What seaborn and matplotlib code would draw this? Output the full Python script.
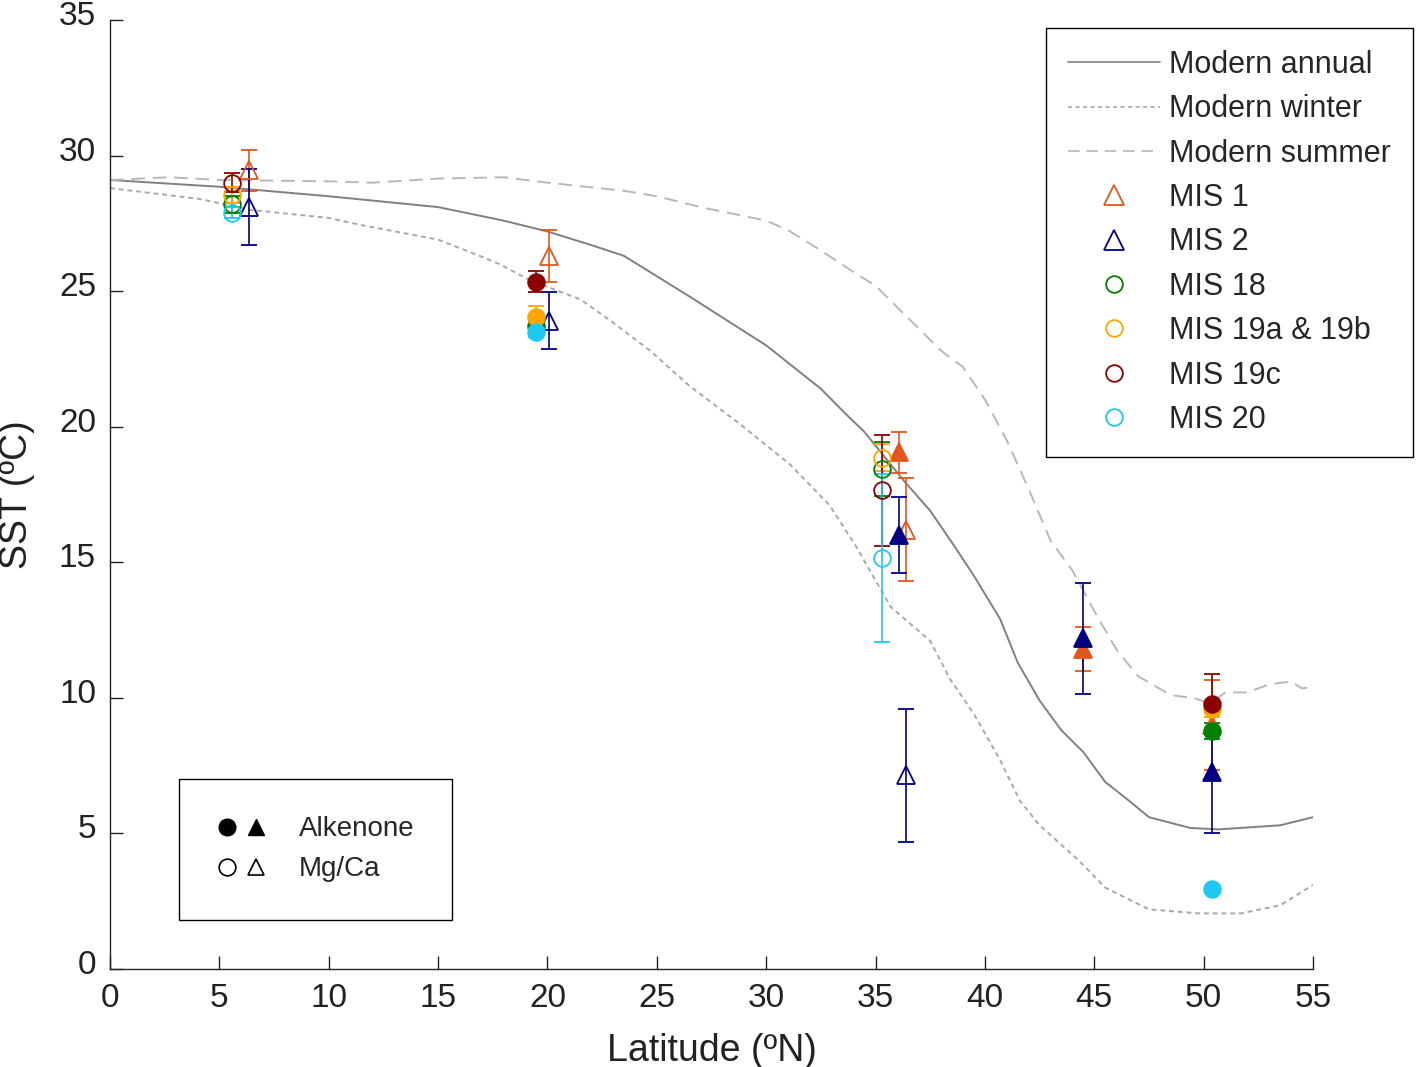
import matplotlib
matplotlib.use("Agg")
import matplotlib.pyplot as plt
import matplotlib.transforms as mtransforms
from matplotlib.lines import Line2D
from matplotlib.legend_handler import HandlerTuple
import numpy as np
import pandas as pd
import seaborn as sns

sns.set_style("ticks")
plt.rcParams["font.family"] = ["Liberation Sans", "DejaVu Sans"]

# ------------------------------------------------------------
# Modern SST profiles
# ------------------------------------------------------------
annual_lat = [0, 5, 10, 15, 18, 20, 22, 23.5, 26.5, 30, 32.5, 33.6, 34.5, 35.2, 36.3,
              37.5, 38.6, 39.5, 40.7, 41.5, 42.5, 43.5, 44.5, 45.5, 46.6, 47.5, 49.4,
              50.7, 53.5, 55]
annual_sst = [29.1, 28.85, 28.5, 28.1, 27.6, 27.2, 26.7, 26.3, 24.8, 23.0, 21.4, 20.5,
              19.8, 19.1, 18.0, 16.9, 15.6, 14.5, 12.9, 11.3, 9.9, 8.8, 8.0, 6.9, 6.2,
              5.6, 5.2, 5.15, 5.3, 5.6]

winter_lat = [0, 4.1, 6.4, 10, 11.4, 15, 16.9, 17.8, 19.2, 21.5, 22.9, 24.7, 26.5, 28.8,
              31.1, 32.9, 34.1, 35.7, 37.5, 38.4, 39.5, 40.7, 41.6, 42.5, 44.3, 45.5,
              47.5, 49.8, 51.7, 53.5, 55]
winter_sst = [28.8, 28.4, 28.0, 27.7, 27.45, 26.9, 26.3, 26.0, 25.4, 24.7, 23.9, 22.8,
              21.5, 20.1, 18.6, 17.1, 15.6, 13.35, 12.1, 10.7, 9.4, 7.7, 6.2, 5.3, 4.0,
              3.0, 2.2, 2.05, 2.05, 2.35, 3.1]

summer_lat = [0, 2.7, 5, 10, 12, 15, 18, 20, 23.5, 25, 27, 30, 31, 32.5, 34, 35, 35.5,
              36.5, 38, 39, 40, 41, 42, 43, 44, 45, 46, 47, 48.5, 49.5, 50.3, 51, 52,
              53, 54, 54.5, 55]
summer_sst = [29.1, 29.2, 29.1, 29.05, 29.0, 29.15, 29.2, 29.0, 28.7, 28.5, 28.1, 27.6,
              27.25, 26.5, 25.7, 25.2, 24.8, 24.0, 22.8, 22.2, 21.0, 19.5, 17.7, 15.8,
              14.7, 13.2, 11.8, 10.8, 10.1, 10.0, 9.8, 10.2, 10.2, 10.5, 10.6, 10.35, 10.4]

# ------------------------------------------------------------
# Proxy SST estimates
# ------------------------------------------------------------
stages = ["MIS 1", "MIS 2", "MIS 18", "MIS 19a & 19b", "MIS 19c", "MIS 20"]
stage_colors = ["#E2571E", "#000080", "#008000", "#FFA500", "#8B0000", "#1EC8F0"]
stage_markers = ["^", "^", "o", "o", "o", "o"]

mis1_lat = [6.36, 20.07, 36.08, 36.4, 44.5, 50.4]
mis1_sst = [29.45, 26.3, 19.05, 16.2, 11.8, 9.0]
mis1_err = [0.75, 0.95, 0.75, 1.9, 0.8, 1.65]
mis1_proxy = ["Mg/Ca", "Mg/Ca", "Alkenone", "Mg/Ca", "Alkenone", "Alkenone"]

mis2_lat = [6.36, 20.07, 36.08, 36.4, 44.5, 50.4]
mis2_sst = [28.1, 23.9, 16.0, 7.15, 12.2, 7.27]
mis2_err = [1.4, 1.05, 1.4, 2.45, 2.05, 2.27]
mis2_proxy = ["Mg/Ca", "Mg/Ca", "Alkenone", "Mg/Ca", "Alkenone", "Alkenone"]

mis18_lat = [5.58, 19.48, 35.3, 50.4]
mis18_sst = [28.2, 23.7, 18.45, 8.78]
mis18_err = [0.3, 0.2, 1.0, 0.3]
mis18_proxy = ["Mg/Ca", "Alkenone", "Mg/Ca", "Alkenone"]

mis19ab_lat = [5.58, 19.48, 35.3, 50.4]
mis19ab_sst = [28.55, 24.05, 18.85, 9.6]
mis19ab_err = [0.3, 0.4, 0.5, 0.3]
mis19ab_proxy = ["Mg/Ca", "Alkenone", "Mg/Ca", "Alkenone"]

mis19c_lat = [5.58, 19.48, 35.3, 50.4]
mis19c_sst = [29.0, 25.35, 17.65, 9.77]
mis19c_err = [0.35, 0.4, 2.05, 1.1]
mis19c_proxy = ["Mg/Ca", "Alkenone", "Mg/Ca", "Alkenone"]

mis20_lat = [5.58, 19.48, 35.3, 50.4]
mis20_sst = [27.9, 23.5, 15.15, 2.95]
mis20_err = [0.2, 0.2, 3.1, 0.0]
mis20_proxy = ["Mg/Ca", "Alkenone", "Mg/Ca", "Alkenone"]

series = [
    (mis1_lat, mis1_sst, mis1_err, mis1_proxy),
    (mis2_lat, mis2_sst, mis2_err, mis2_proxy),
    (mis18_lat, mis18_sst, mis18_err, mis18_proxy),
    (mis19ab_lat, mis19ab_sst, mis19ab_err, mis19ab_proxy),
    (mis19c_lat, mis19c_sst, mis19c_err, mis19c_proxy),
    (mis20_lat, mis20_sst, mis20_err, mis20_proxy),
]

TXT = "#222222"

# ------------------------------------------------------------
# Figure
# ------------------------------------------------------------
W, H = 1418, 1067
fig = plt.figure(figsize=(W / 100, H / 100), dpi=100)
ax = fig.add_axes([110 / W, (H - 969) / H, (1313 - 110) / W, (969 - 20) / H])

sns.lineplot(x=annual_lat, y=annual_sst, ax=ax, color="#808080", lw=1.4, legend=False)
sns.lineplot(x=winter_lat, y=winter_sst, ax=ax, color="#a8a8a8", lw=1.4,
             ls=(0, (2.5, 2)), legend=False)
sns.lineplot(x=summer_lat, y=summer_sst, ax=ax, color="#b8b8b8", lw=1.4,
             ls=(0, (7, 4)), legend=False)

for (lat, sst, err, proxy), col, mk in zip(series, stage_colors, stage_markers):
    df = pd.DataFrame({"lat": lat, "sst": sst, "err": err, "proxy": proxy})
    ms = 13 if mk == "^" else 12
    for _, r in df.iterrows():
        face = col if r["proxy"] == "Alkenone" else "none"
        ax.errorbar(r["lat"], r["sst"], yerr=r["err"] if r["err"] > 0 else None,
                    fmt=mk, ms=ms, mfc=face, mec=col, mew=1.3, color=col,
                    elinewidth=1.2, capsize=6, capthick=1.2, zorder=3)

ax.set_xlim(0, 55)
ax.set_ylim(0, 35)
ax.set_xticks(np.arange(0, 56, 5))
ax.set_yticks(np.arange(0, 36, 5))
ax.tick_params(direction="in", length=9.5, width=1, labelsize=24, colors=TXT)
ax.tick_params(axis="x", pad=10)
ax.tick_params(axis="y", pad=10)
sns.despine(ax=ax)
for s in ["left", "bottom"]:
    ax.spines[s].set_linewidth(1)

off = mtransforms.ScaledTranslation(0, 7 / 100, fig.dpi_scale_trans)
for lab in ax.get_yticklabels():
    lab.set_transform(lab.get_transform() + off)

ax.set_xlabel("Latitude (ºN)", fontsize=27, labelpad=14, color=TXT)
ax.set_ylabel("SST (ºC)", fontsize=27, labelpad=17, color=TXT)

# main legend
handles = [
    Line2D([], [], color="#808080", lw=1.2),
    Line2D([], [], color="#a8a8a8", lw=1.2, ls=(0, (2.5, 2))),
    Line2D([], [], color="#b8b8b8", lw=1.2, ls=(0, (7, 4))),
]
labels = ["Modern annual", "Modern winter", "Modern summer"]
for st, col, mk in zip(stages, stage_colors, stage_markers):
    handles.append(Line2D([], [], ls="none", marker=mk, ms=14 if mk == "^" else 12,
                          mfc="none", mec=col, mew=1.3))
    labels.append(st)
leg = ax.legend(handles, labels, loc="upper left",
                bbox_to_anchor=((1046 - 110) / (1313 - 110), 1 - (28 - 20) / (969 - 20)),
                fontsize=22, frameon=True, fancybox=False, edgecolor="black",
                framealpha=1, handlelength=3.0, handletextpad=0.3, labelspacing=0.47,
                borderpad=0.72, borderaxespad=0)
leg.get_frame().set_linewidth(1)
ax.add_artist(leg)

# proxy legend
fill_c = Line2D([], [], ls="none", marker="o", ms=12, mfc="black", mec="black")
fill_t = Line2D([], [], ls="none", marker="^", ms=12, mfc="black", mec="black")
open_c = Line2D([], [], ls="none", marker="o", ms=12, mfc="none", mec="black", mew=1.2)
open_t = Line2D([], [], ls="none", marker="^", ms=12, mfc="none", mec="black", mew=1.2)
leg2 = ax.legend([(fill_c, fill_t), (open_c, open_t)], ["Alkenone", "Mg/Ca"],
                 handler_map={tuple: HandlerTuple(ndivide=None, pad=0.22)},
                 loc="upper left",
                 bbox_to_anchor=((179 - 110) / (1313 - 110), 1 - (779 - 20) / (969 - 20)),
                 fontsize=20, frameon=True, fancybox=False, edgecolor="black",
                 framealpha=1, handlelength=1.8, handletextpad=1.15, labelspacing=0.5,
                 borderpad=1.35, borderaxespad=0)
leg2.get_frame().set_linewidth(1)

fig.savefig("out.png", dpi=100)
